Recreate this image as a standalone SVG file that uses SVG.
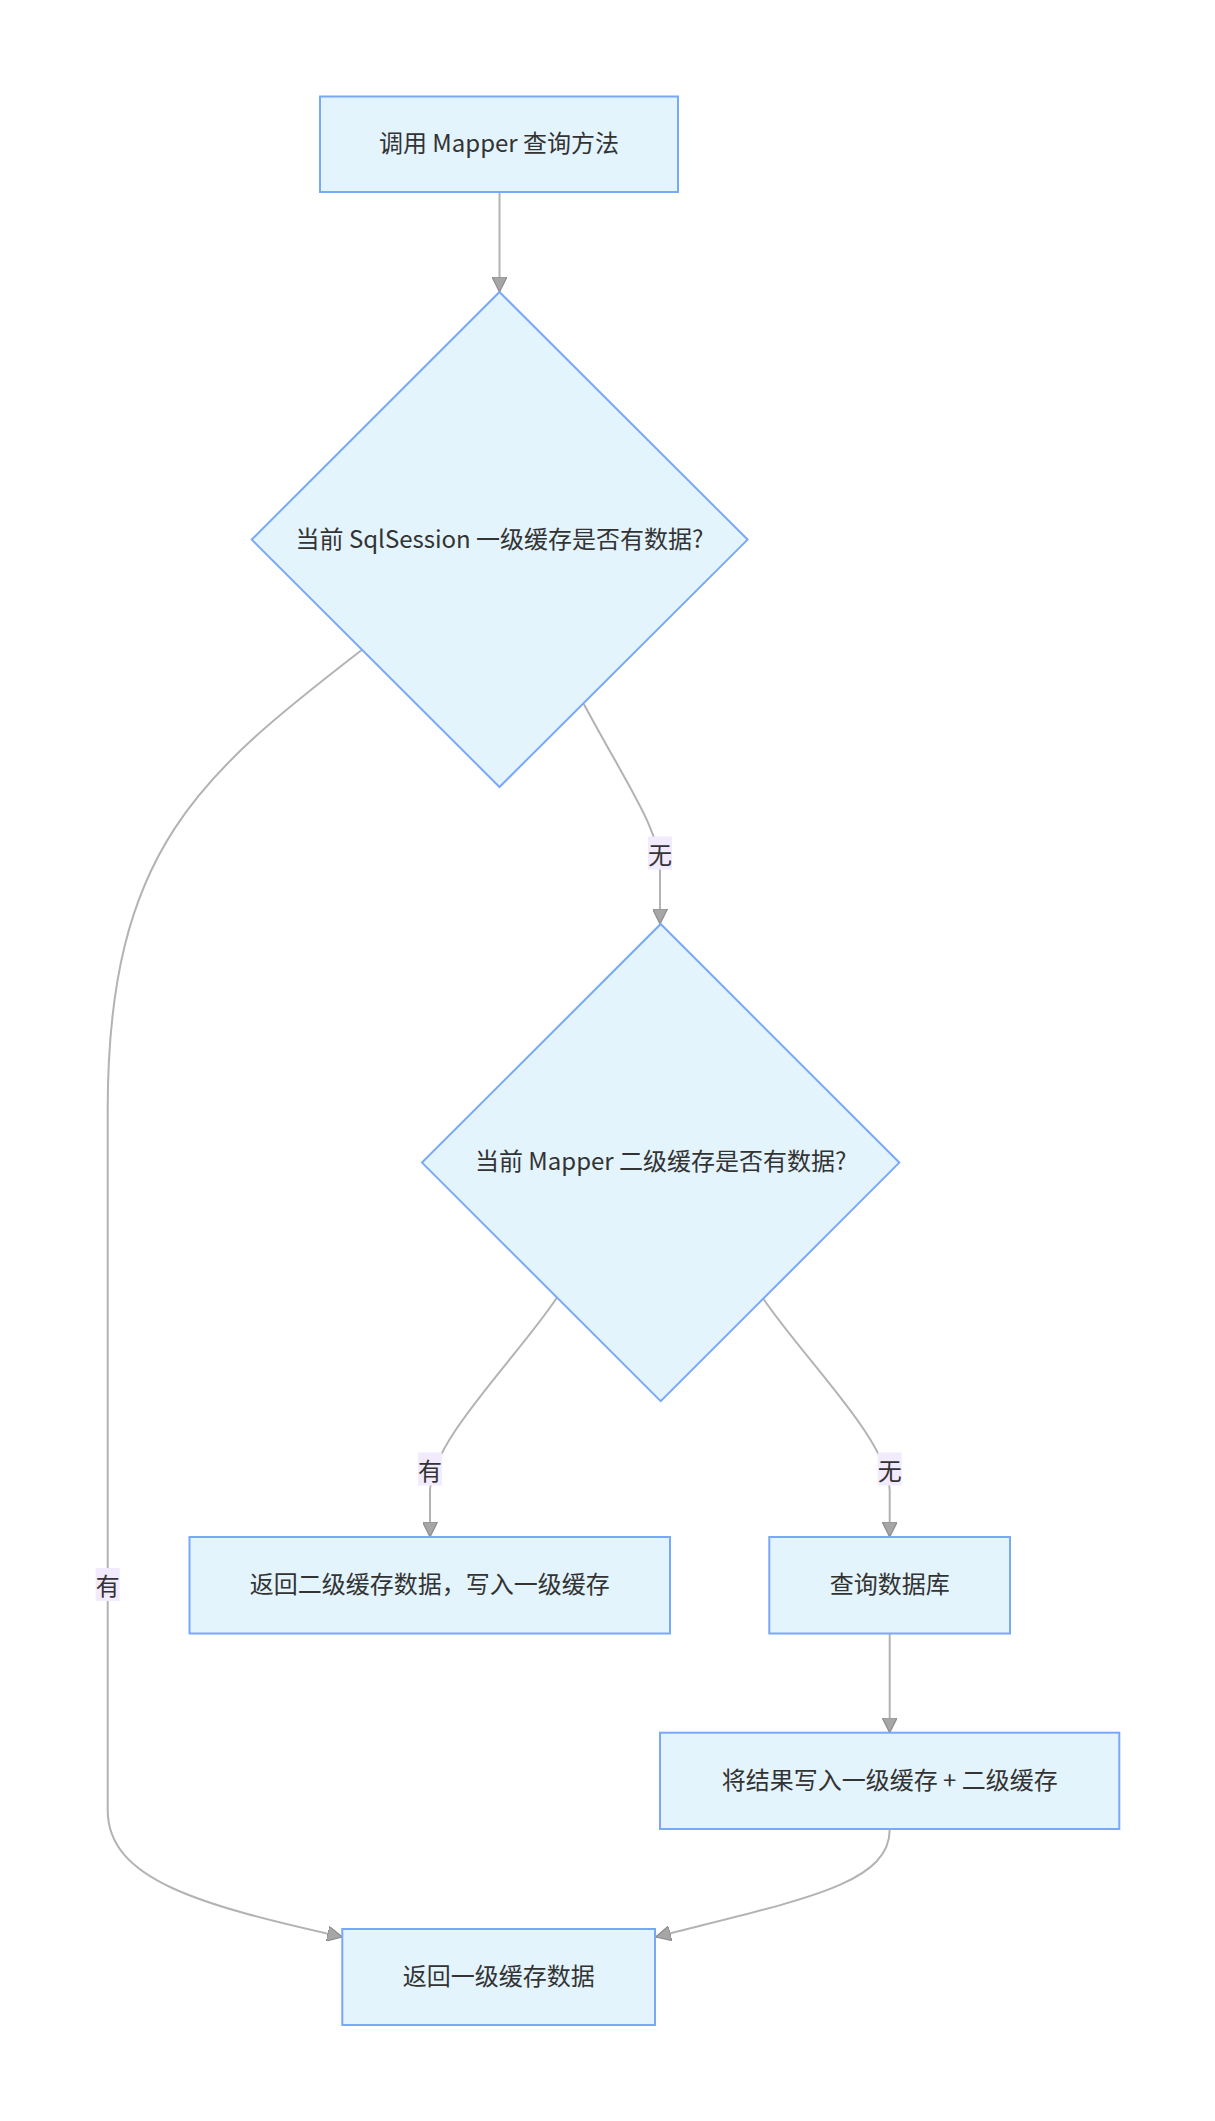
<svg xmlns="http://www.w3.org/2000/svg" width="1215" height="2121" viewBox="0 0 1215 2121">
<defs>
<style>
.node rect, .node polygon { fill: #e3f4fd; stroke: #78a8f7; stroke-width: 2; }
.node text { font-family: "Noto Sans CJK SC", "Noto Sans", sans-serif; font-size: 24px; fill: #333333; text-anchor: middle; dominant-baseline: central; }
.edge { fill: none; stroke: #b3b3b3; stroke-width: 2; marker-end: url(#arrow); }
.elabel rect { fill: #f2eafd; }
.elabel text { font-family: "Noto Sans CJK SC", "Noto Sans", sans-serif; font-size: 24px; fill: #333333; text-anchor: middle; dominant-baseline: central; }
</style>
<marker id="arrow" viewBox="0 0 10 10" refX="10" refY="5" markerUnits="userSpaceOnUse" markerWidth="15" markerHeight="15" orient="auto">
<path d="M0,0 L10,5 L0,10 z" fill="#a6a6a6" stroke="#8c8c8c" stroke-width="0.8"/>
</marker>
</defs>
<rect x="0" y="0" width="1215" height="2121" fill="#ffffff"/>
<g id="connectors">
<path class="edge" d="M499.5,192 L499.5,292"/>
<path class="edge" d="M583.8,704 C630,790 660,830 660,870 L660,924"/>
<path class="edge" d="M556.7,1298 C515,1360 432,1440 430,1490 L430,1537"/>
<path class="edge" d="M763.5,1299 C805,1360 888,1440 889.7,1490 L889.7,1537"/>
<path class="edge" d="M889.7,1633.5 L889.7,1732.7"/>
<path class="edge" d="M889.7,1829.5 C889.7,1885 800,1900 655.7,1937"/>
<path class="edge" d="M361.7,650 C200,775 107.7,850 107.7,1110 L107.7,1810 C107.7,1880 200,1905 342.3,1937"/>
</g>
<g id="edge-labels">
<g class="elabel" id="label-d1-no"><rect x="648" y="836.5" width="24" height="33"/><text x="660" y="853">无</text></g>
<g class="elabel" id="label-d2-yes"><rect x="418" y="1452.5" width="24" height="33"/><text x="430" y="1469">有</text></g>
<g class="elabel" id="label-d2-no"><rect x="877.7" y="1452.5" width="24" height="33"/><text x="889.7" y="1469">无</text></g>
<g class="elabel" id="label-d1-yes"><rect x="95.7" y="1568" width="24" height="33"/><text x="107.7" y="1584.5">有</text></g>
</g>
<g id="node-start" class="node"><rect x="320" y="96.5" width="358" height="95.5"/><text x="499" y="141">调用 Mapper 查询方法</text></g>
<g id="node-d1" class="node"><polygon points="499.5,292 747.6,539.6 499.5,787 251.7,539.6"/><text x="499.5" y="537.5">当前 SqlSession 一级缓存是否有数据?</text></g>
<g id="node-d2" class="node"><polygon points="660.7,924 899.3,1162.6 660.7,1401.2 422,1162.6"/><text x="660.7" y="1159.6">当前 Mapper 二级缓存是否有数据?</text></g>
<g id="node-l2hit" class="node"><rect x="189.5" y="1537" width="480.5" height="96.5"/><text x="429.7" y="1582">返回二级缓存数据，写入一级缓存</text></g>
<g id="node-db" class="node"><rect x="769.3" y="1537" width="240.7" height="96.5"/><text x="889.7" y="1582">查询数据库</text></g>
<g id="node-write" class="node"><rect x="660" y="1732.7" width="459.3" height="96.3"/><text x="889.7" y="1778">将结果写入一级缓存 + 二级缓存</text></g>
<g id="node-return" class="node"><rect x="342.3" y="1929" width="312.7" height="96"/><text x="498.7" y="1974">返回一级缓存数据</text></g>
</svg>
